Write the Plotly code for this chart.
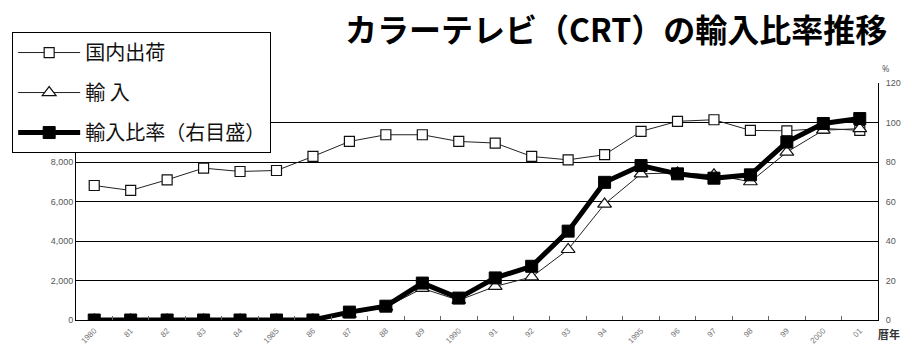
import plotly.graph_objects as go

years = ["1980", "81", "82", "83", "84", "1985", "86", "87", "88", "89", "1990",
         "91", "92", "93", "94", "1995", "96", "97", "98", "99", "2000", "01"]

# Domestic shipments and imports (left axis, thousand units)
domestic = [6810, 6560, 7100, 7690, 7520, 7570, 8280, 9040, 9380, 9380, 9040,
            8960, 8280, 8110, 8370, 9550, 10060, 10140, 9600, 9580, 9700, 9600]
imports = [0, 0, 0, 0, 0, 0, 0, 300, 650, 1600, 1000,
           1700, 2180, 3570, 5870, 7400, 7450, 7350, 7000, 8500, 9610, 9690]
# Import ratio (right axis, %)
ratio = [0, 0, 0, 0, 0, 0, 0, 4, 7, 18.7, 11.1,
         21.3, 27.2, 45, 69.7, 78.2, 74, 71.8, 73.5, 90.1, 99.5, 102]

names = ["国内出荷", "輸 入", "輸入比率（右目盛）"]

# Left axis ticks; the two top labels sit under the legend box
left_vals = [0, 2000, 4000, 6000, 8000, 10000, 12000]
left_text = ["0", "2,000", "4,000", "6,000", "8,000", "", ""]

fig = go.Figure()
fig.add_trace(go.Scatter(
    x=years, y=domestic, name=names[0], mode="lines+markers", legendgroup="a",
    line=dict(color="#222", width=1),
    marker=dict(symbol="square", size=10, color="white", line=dict(color="#111", width=1.2)),
))
fig.add_trace(go.Scatter(
    x=years, y=imports, name=names[1], mode="lines+markers", legendgroup="b",
    line=dict(color="#222", width=1),
    marker=dict(symbol="triangle-up", size=12, color="white", line=dict(color="#111", width=1.2)),
))
fig.add_trace(go.Scatter(
    x=years, y=ratio, name=names[2], mode="lines+markers", yaxis="y2", legendgroup="c",
    line=dict(color="black", width=5),
    marker=dict(symbol="square", size=12, color="black", line=dict(color="black", width=1)),
))

tick_font = dict(family="Liberation Sans, Arial, sans-serif", size=9, color="#555")

fig.update_layout(
    width=903, height=346,
    margin=dict(l=74, r=25, t=83, b=26),
    paper_bgcolor="white", plot_bgcolor="white",
    showlegend=True,
    legend=dict(
        x=-0.0796, y=1.215, xanchor="left", yanchor="top",
        bgcolor="white", bordercolor="black", borderwidth=1,
        font=dict(family="Noto Sans CJK JP", size=20, color="#111"),
        traceorder="grouped", tracegroupgap=11, itemwidth=62,
    ),
    xaxis=dict(
        type="category", range=[-0.5, 21.5], automargin=False,
        showgrid=False, showline=True, linecolor="black", linewidth=1,
        ticks="inside", tickson="boundaries", ticklen=4, tickcolor="#666",
        tickangle=-45, ticklabelstandoff=2,
        tickfont=dict(family="Liberation Sans, Arial, sans-serif", size=8, color="#777"),
    ),
    yaxis=dict(
        range=[0, 12000], tickmode="array", tickvals=left_vals, ticktext=left_text,
        automargin=False,
        showgrid=True, gridcolor="black", gridwidth=1,
        showline=True, linecolor="black", linewidth=1,
        zeroline=False, tickfont=tick_font, ticks="",
    ),
    yaxis2=dict(
        range=[0, 120], dtick=20, overlaying="y", side="right", automargin=False,
        showgrid=False, showline=True, linecolor="black", linewidth=1,
        zeroline=False, tickfont=tick_font, ticks="", ticklabelstandoff=5,
    ),
    annotations=[
        dict(text="カラーテレビ（CRT）の輸入比率推移", xref="paper", yref="paper",
             x=0.673, y=1.232, xanchor="center", yanchor="middle", showarrow=False,
             font=dict(family="Noto Sans CJK JP", size=32, color="black", weight="bold")),
        dict(text="%", xref="paper", yref="paper", x=1.003, y=1.025, xanchor="left",
             yanchor="bottom", showarrow=False, font=dict(size=9, color="#555")),
        dict(text="<b>暦年</b>", xref="paper", yref="paper", x=0.998, y=-0.1, xanchor="left",
             yanchor="bottom", showarrow=False,
             font=dict(family="Noto Sans CJK JP", size=11, color="#333")),
    ],
)

fig.write_html("out.html")
